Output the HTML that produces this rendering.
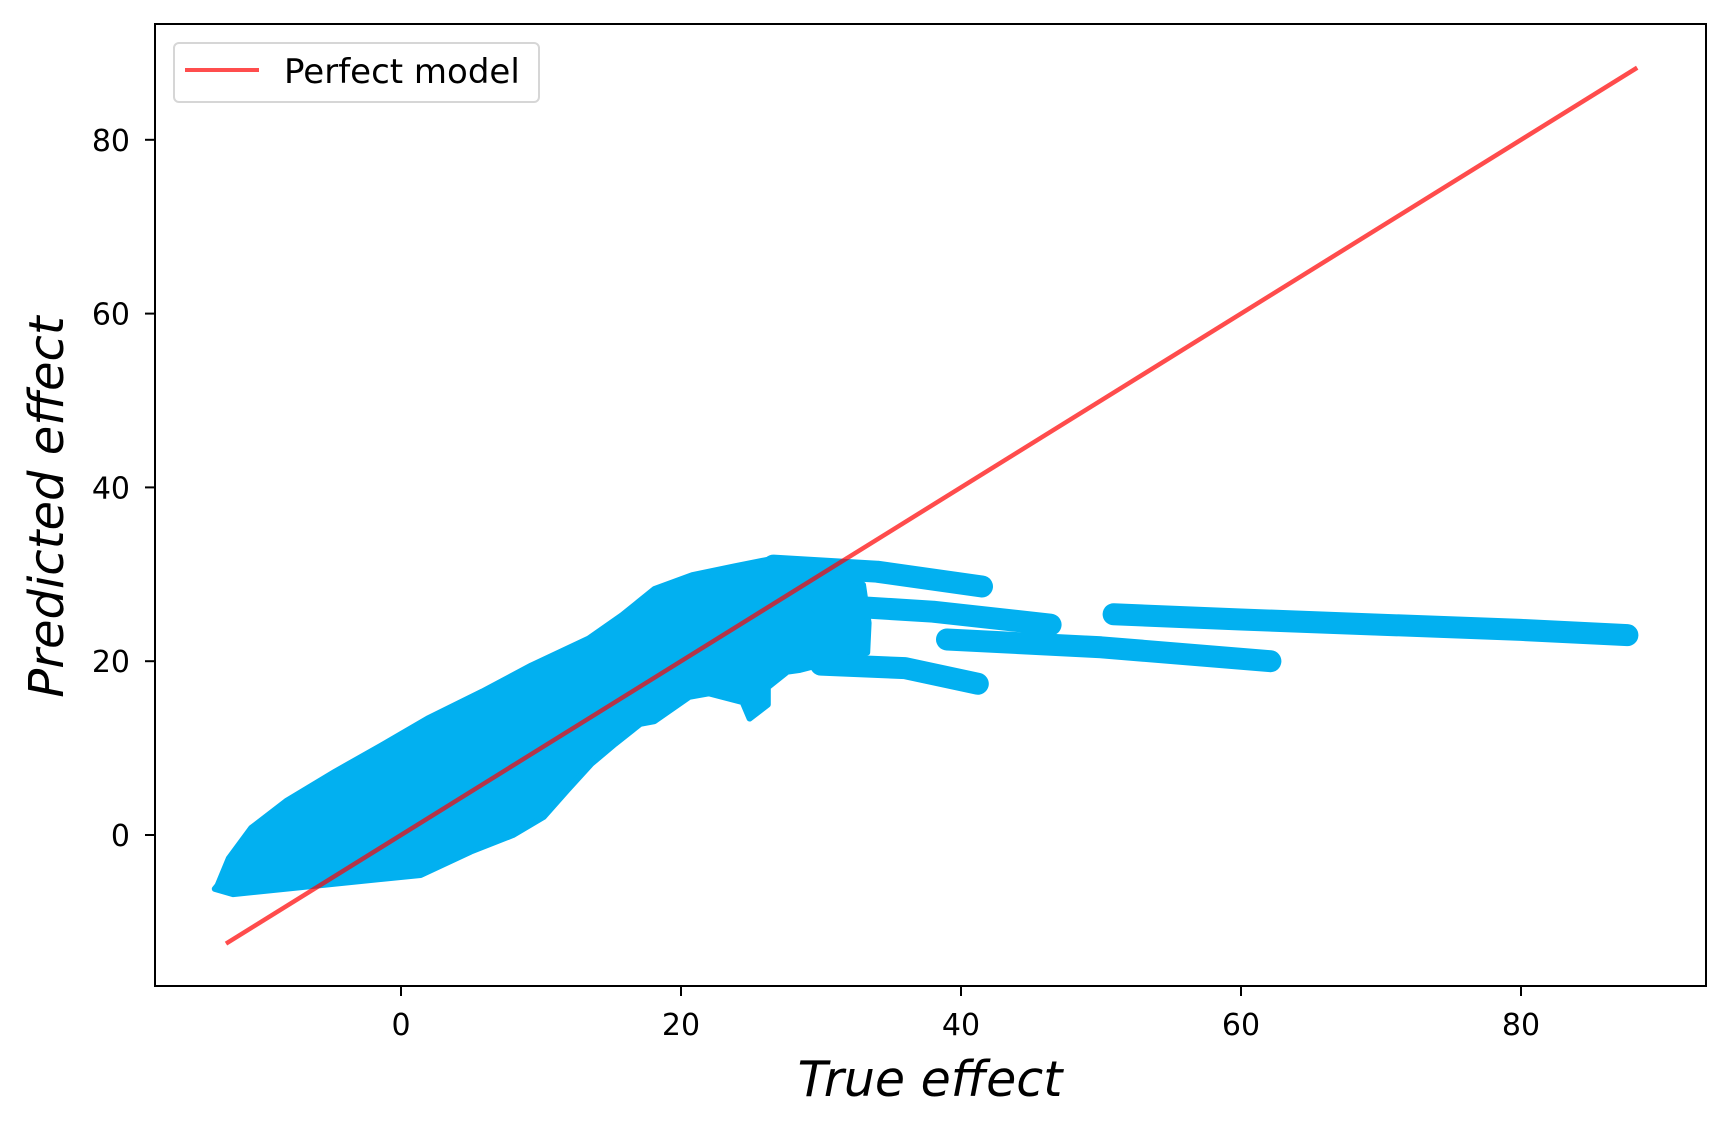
<!DOCTYPE html>
<html><head><meta charset="utf-8"><style>
html,body{margin:0;padding:0;background:#fff;}
svg{display:block;font-family:"DejaVu Sans","Liberation Sans",sans-serif;}
</style></head><body>
<svg id="chart" width="1730" height="1132" viewBox="0 0 1730 1132" xmlns="http://www.w3.org/2000/svg">
<rect x="0" y="0" width="1730" height="1132" fill="#fff"/>
<g id="plot"></g>
<rect x="155" y="24" width="1551" height="962" fill="none" stroke="#000" stroke-width="2"/>
<g id="axes"></g>
<text x="930" y="1096" text-anchor="middle" font-size="49" font-style="italic">True effect</text>
<text x="0" y="0" transform="translate(63,507) rotate(-90)" text-anchor="middle" font-size="48" font-style="italic">Predicted effect</text>
<g>
<rect x="174" y="43" width="365" height="59" rx="5" fill="#fff" fill-opacity="0.8" stroke="#d6d6d6" stroke-width="2"/>
<line x1="185" y1="70" x2="259" y2="70" stroke="#ff4d4d" stroke-width="4"/>
<text x="284" y="83" font-size="34">Perfect model</text>
</g>
</svg>
<script>
const xTicks = [0, 20, 40, 60, 80];
const yTicks = [0, 20, 40, 60, 80];
const lineX = [-12.5, 88.3];
const lineY = [-12.5, 88.3];
// scatter cloud boundary (true, predicted)
const blobX = [-13.1,-12.3,-10.7,-8.2,-4.7,-1.4,1.9,5.8,9.3,13.4,15.8,18.1,20.8,23.8,26.6,30,33,33.4,33.3,28.5,27.6,26.2,26.2,24.9,24.4,22,20.6,18.1,17.1,15.3,13.6,11.9,10.2,8.0,5.0,1.4,-12.0,-13.3];
const blobY = [-5.8,-2.7,0.8,3.9,7.3,10.3,13.4,16.5,19.5,22.6,25.3,28.3,29.9,30.9,31.8,31.2,28.8,24.4,21.0,19.0,18.8,17.0,15.0,13.4,15.3,16.3,15.9,13.1,12.8,10.5,8.2,5.2,2.1,0.0,-1.9,-4.6,-6.8,-6.2];
// streaks of points (marker centres)
const streakTopX = [26.6, 34, 41.5];
const streakTopY = [31.0, 30.3, 28.6];
const streakMidX = [30, 38, 46.4];
const streakMidY = [26.5, 25.7, 24.2];
const streakLowX = [39, 50, 62.1];
const streakLowY = [22.5, 21.6, 20.0];
const streakBotX = [30, 36, 41.2];
const streakBotY = [19.6, 19.2, 17.4];
const streakFarX = [50.9, 60, 70, 80, 87.6];
const streakFarY = [25.4, 24.8, 24.2, 23.6, 23.0];

const NS = "http://www.w3.org/2000/svg";
const sx = v => 401 + v * 14.0;
const sy = v => 835 - v * 8.69;
const R = 11;
const COLOR = "#02b0f0";
const plot = document.getElementById("plot");
const axes = document.getElementById("axes");

function mk(tag, attrs, parent) {
  const e = document.createElementNS(NS, tag);
  for (const k in attrs) e.setAttribute(k, attrs[k]);
  parent.appendChild(e);
  return e;
}

const blob = mk("polygon", {points: blobX.map((x, i) => sx(x) + "," + sy(blobY[i])).join(" "), fill: COLOR, stroke: COLOR, "stroke-width": 6, "stroke-linejoin": "round"}, plot);



const streaks = [[streakTopX, streakTopY], [streakMidX, streakMidY], [streakLowX, streakLowY], [streakBotX, streakBotY], [streakFarX, streakFarY]];
streaks.forEach(([xs, ys]) => {
  const p = mk("polyline", {points: xs.map((x, i) => sx(x) + "," + sy(ys[i])).join(" "), fill: "none", stroke: COLOR, "stroke-width": 2 * R, "stroke-linecap": "round", "stroke-linejoin": "round"}, plot);
  
  
});

const ln = mk("line", {x1: sx(lineX[0]), y1: sy(lineY[0]), x2: sx(lineX[1]), y2: sy(lineY[1]), stroke: "#ff0000", "stroke-opacity": 0.7, "stroke-width": 4.5}, plot);



xTicks.forEach(t => {
  const l = mk("line", {x1: sx(t), x2: sx(t), y1: 986, y2: 996, stroke: "#000", "stroke-width": 2}, axes);
  
  
  const tx = mk("text", {x: sx(t), y: 1035, "text-anchor": "middle", "font-size": 30}, axes);
  tx.textContent = t;
  
  
});
yTicks.forEach(t => {
  const l = mk("line", {x1: 145, x2: 155, y1: sy(t), y2: sy(t), stroke: "#000", "stroke-width": 2}, axes);
  
  
  const tx = mk("text", {x: 130, y: sy(t) + 11, "text-anchor": "end", "font-size": 30}, axes);
  tx.textContent = t;
  
  
});
</script>
</body></html>
